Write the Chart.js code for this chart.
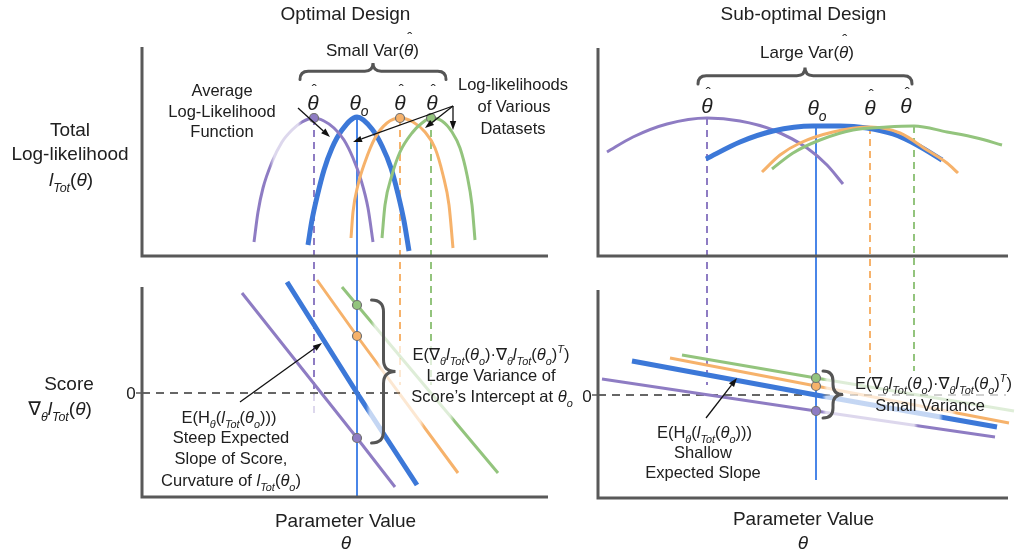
<!DOCTYPE html>
<html>
<head>
<meta charset="utf-8">
<script src="https://cdn.jsdelivr.net/npm/chart.js@4/dist/chart.umd.min.js"></script>
<style>
  html, body { margin: 0; padding: 0; background: #fff; overflow: hidden; }
  canvas { display: block; }
</style>
</head>
<body>
<canvas id="fig" width="1026" height="557"></canvas>
<script>
// θ is measured relative to the true parameter θo (θo = 0).

// Total log-likelihood, optimal design: [θ, lTot]
const optLLAverage = [[-4.9,1.1],[-4.5,3.6],[-4.0,5.9],[-3.3,8.6],[-2.5,10.8],[-1.5,12.6],[0,13.9],[1.5,12.7],[2.5,11.0],[3.4,8.8],[4.1,6.2],[4.7,3.5],[5.2,0.5]];
const optLLPurple  = [[-10.3,1.4],[-9.9,4.4],[-9.4,6.8],[-8.5,9.4],[-7.5,11.4],[-6.5,12.6],[-5.5,13.4],[-4.3,13.8],[-3.3,13.5],[-2.3,12.8],[-1.3,11.6],[-0.4,9.8],[0.4,7.6],[1.1,4.8],[1.6,1.4]];
const optLLOrange  = [[-0.6,1.8],[-0.4,4.4],[0.1,7.1],[0.8,9.4],[1.8,11.8],[3.0,13.3],[4.3,13.8],[5.6,13.4],[6.8,12.4],[7.8,10.8],[8.6,8.1],[9.2,5.1],[9.6,0.8]];
const optLLGreen   = [[2.5,1.8],[2.8,5.1],[3.5,8.1],[4.3,10.4],[5.5,12.3],[6.5,13.3],[7.4,13.8],[8.5,13.5],[9.5,12.4],[10.3,10.8],[11.0,8.1],[11.5,5.1],[11.8,1.6]];

// Total log-likelihood, sub-optimal design
const subLLAverage = [[-11.0,9.7],[-7.6,11.4],[-4.3,12.5],[-0.3,13.0],[2.4,13.0],[5.1,12.8],[7.7,12.2],[10.1,11.1],[12.6,9.6]];
const subLLPurple  = [[-20.9,10.4],[-18.3,11.9],[-14.9,13.2],[-10.9,13.8],[-7.6,13.5],[-4.3,12.6],[-0.9,10.8],[1.1,9.1],[2.7,7.2]];
const subLLOrange  = [[-5.4,8.4],[-3.6,10.1],[-1.6,11.3],[1.7,12.4],[5.4,12.9],[8.4,12.3],[11.1,10.6],[13.1,9.3],[14.2,8.3]];
const subLLGreen   = [[-4.4,8.7],[-2.3,10.3],[0.4,11.6],[3.7,12.6],[7.1,12.9],[9.8,13.0],[13.1,12.4],[16.1,11.8],[18.6,11.1]];

// Score lines: [θ, score]; the middle point is the intercept at θo
const optScoreAverage = [[-7.0,11.1],[0,0],[6.0,-9.2]];
const optScorePurple  = [[-11.5,10.0],[0,-4.5],[3.8,-9.4]];
const optScoreOrange  = [[-4.0,11.3],[0,5.7],[10.1,-8.0]];
const optScoreGreen   = [[-1.5,10.6],[0,8.8],[14.1,-8.0]];

const subScoreAverage = [[-18.4,3.4],[0,0],[18.1,-3.2]];
const subScorePurple  = [[-21.4,1.6],[0,-1.6],[17.9,-4.2]];
const subScoreOrange  = [[-14.6,3.7],[0,0.9],[19.3,-2.8]];
const subScoreGreen   = [[-13.4,4.0],[0,1.7],[19.8,-1.6]];

// lower ends of the dashed estimate lines in the score panels
const optDashEnds = [-2.2, 0.8, 0.8];
const subDashEnds = [1.0, 2.2, 2.4];

// ---------------------------------------------------------------
const W = 1026, H = 557;
const FONT = '"Liberation Sans", Arial, Helvetica, "DejaVu Sans", sans-serif';
const INK = '#202020';
const AXIS = '#595959';
const C = { purple: '#8e7cc3', blue: '#3c78d8', orange: '#f6b26b', green: '#93c47d', theta: '#4a86e8', zero: '#666666' };

const hexA = (hex, a) => {
  const n = parseInt(hex.slice(1), 16);
  return `rgba(${n >> 16},${(n >> 8) & 255},${n & 255},${a})`;
};
const clamp01 = v => Math.min(1, Math.max(0, v));
const xy = arr => arr.map(([x, y]) => ({ x, y }));
const peakOf = arr => arr.reduce((m, p) => (p[1] > m[1] ? p : m), arr[0]);
const atTheta0 = arr => arr.find(p => p[0] === 0);

// pixel placement of each scale: value 0 at `anchor` px, `k` px per unit
function xScale(anchor, k) {
  return { type: 'linear', axis: 'x', position: 'bottom', display: false, min: -anchor / k, max: (W - anchor) / k };
}
function yScale(anchor, k) {
  return { type: 'linear', axis: 'y', position: 'left', display: false, min: (anchor - H) / k, max: anchor / k };
}

// stroke that is washed out over some θ ranges (where labels sit on top)
function fadedStroke(chart, color, ranges, scaleId) {
  const sc = chart.scales && chart.scales[scaleId];
  if (!sc || !ranges) return color;
  const px = ranges.map(([a, b]) => [sc.getPixelForValue(a) / W, sc.getPixelForValue(b) / W]);
  if (!px.every(([a, b]) => Number.isFinite(a) && Number.isFinite(b))) return color;
  const g = chart.ctx.createLinearGradient(0, 0, W, 0);
  const lite = hexA(color, 0.3), e = 2 / W;
  g.addColorStop(0, color);
  for (const [pa, pb] of px) {
    g.addColorStop(clamp01(pa - e), color);
    g.addColorStop(clamp01(pa + e), lite);
    g.addColorStop(clamp01(pb - e), lite);
    g.addColorStop(clamp01(pb + e), color);
  }
  return g;
}

function curve(arr, xs, ys, color, width, fades, smooth) {
  return {
    data: xy(arr), xAxisID: xs, yAxisID: ys, showLine: true,
    borderColor: fades ? (c) => fadedStroke(c.chart, color, fades, xs) : color,
    borderWidth: width, borderCapStyle: 'butt', pointRadius: 0, pointHoverRadius: 0,
    cubicInterpolationMode: smooth ? 'monotone' : 'default', tension: 0, fill: false
  };
}
function markers(points, colors, xs, ys) {
  return {
    data: xy(points), xAxisID: xs, yAxisID: ys, showLine: false,
    pointRadius: 4.5, pointHoverRadius: 4.5, pointBorderWidth: 1.2,
    pointBackgroundColor: colors, pointBorderColor: '#707070'
  };
}

const dotCols = [C.purple, C.orange, C.green];
const optLL = [optLLPurple, optLLOrange, optLLGreen];
const subLL = [subLLPurple, subLLOrange, subLLGreen];
const optScores = [optScorePurple, optScoreOrange, optScoreGreen];
const subScores = [subScorePurple, subScoreOrange, subScoreGreen];

const datasets = [
  markers(optLL.map(peakOf), dotCols, 'xL', 'yTL'),
  markers(optScores.map(atTheta0), dotCols, 'xL', 'yBL'),
  markers(subScores.map(atTheta0), dotCols, 'xR', 'yBR'),

  curve(optLLGreen, 'xL', 'yTL', C.green, 3, null, true),
  curve(optLLOrange, 'xL', 'yTL', C.orange, 3, null, true),
  curve(optLLPurple, 'xL', 'yTL', C.purple, 3, [[-8.5, -5.7]], true),
  curve(optLLAverage, 'xL', 'yTL', C.blue, 5, null, true),

  curve(subLLGreen, 'xR', 'yTR', C.green, 3, null, true),
  curve(subLLOrange, 'xR', 'yTR', C.orange, 3, null, true),
  curve(subLLAverage, 'xR', 'yTR', C.blue, 5, null, true),
  curve(subLLPurple, 'xR', 'yTR', C.purple, 3, null, true),

  curve(optScoreGreen, 'xL', 'yBL', C.green, 3, [[1.6, 9.5]], false),
  curve(optScoreOrange, 'xL', 'yBL', C.orange, 3, [[2.2, 6.5]], false),
  curve(optScoreAverage, 'xL', 'yBL', C.blue, 5, [[1.1, 2.6]], false),
  curve(optScorePurple, 'xL', 'yBL', C.purple, 3, null, false),

  curve(subScoreGreen, 'xR', 'yBR', C.green, 3, [[0.9, 25]], false),
  curve(subScoreOrange, 'xR', 'yBR', C.orange, 3, [[0.9, 13.8]], false),
  curve(subScoreAverage, 'xR', 'yBR', C.blue, 5, [[0.8, 12.5]], false),
  curve(subScorePurple, 'xR', 'yBR', C.purple, 3, [[0.8, 10]], false)
];

// panel frames: [x scale, y scale, θ from, θ to, y from, y to]
const panels = [
  ['xL', 'yTL', -21.5, 19.1, 0, 20.9],
  ['xR', 'yTR', -21.8, 19.2, 0, 20.8],
  ['xL', 'yBL', -21.5, 19.1, -10.4, 10.6],
  ['xR', 'yBR', -21.8, 19.2, -10.3, 10.5]
];

// vertical / horizontal guide lines: points are [x scale, θ, y scale, value]
const refLines = [
  { a: ['xL', 0, 'yTL', peakOf(optLLAverage)[1]], b: ['xL', 0, 'yBL', -10.4], color: C.theta, width: 2 },
  { a: ['xR', 0, 'yTR', 13.0], b: ['xR', 0, 'yBR', -8.5], color: C.theta, width: 2 },
  { a: ['xL', -21.5, 'yBL', 0], b: ['xL', 4.3, 'yBL', 0], color: C.zero, width: 2, dash: [8, 6] },
  { a: ['xR', -21.8, 'yBR', 0], b: ['xR', 19.0, 'yBR', 0], color: C.zero, width: 2, dash: [8, 6],
    fade: [['xR', 0.6, 'yBR', 0], ['xR', 19.0, 'yBR', 0]] }
];
const optFadeFrom = [0.3, 5.3, 5.3];
optLL.forEach((arr, i) => {
  const [t, l] = peakOf(arr);
  refLines.push({ a: ['xL', t, 'yTL', l], b: ['xL', t, 'yBL', optDashEnds[i]], color: dotCols[i], width: 2, dash: [7, 5],
    fade: [['xL', t, 'yBL', optFadeFrom[i]], ['xL', t, 'yBL', optDashEnds[i]]] });
});
subLL.forEach((arr, i) => {
  const [t, l] = peakOf(arr);
  refLines.push({ a: ['xR', t, 'yTR', l], b: ['xR', t, 'yBR', subDashEnds[i]], color: dotCols[i], width: 2, dash: [7, 5] });
});

// annotation text (rich segments: 'i' italic, 's' subscript, 'S' superscript, 'h' hat)
const lTot = [['l', 'i'], ['Tot', 'si']];
const theta0 = [['θ', 'i'], ['o', 'si']];
const hessian = ['E(H', ['θ', 'si'], '(', ...lTot, '(', ...theta0, ')))'];
const outer = ['E(∇', ['θ', 'si'], ...lTot, '(', ...theta0, ')·∇', ['θ', 'si'], ...lTot, '(', ...theta0, ')', ['T', 'Si'], ')'];
const hatTheta = [['θ', 'ih']];

const labels = [
  { t: ['Optimal Design'], x: 345.5, y: 13, s: 19 },
  { t: ['Sub-optimal Design'], x: 803.5, y: 13, s: 19 },
  { t: ['Small Var(', ['θ', 'ih'], ')'], x: 372.5, y: 50, s: 17 },
  { t: ['Large Var(', ['θ', 'ih'], ')'], x: 807, y: 52, s: 17 },

  { t: hatTheta, x: 313, y: 102, s: 21 },
  { t: theta0, x: 359, y: 102, s: 21 },
  { t: hatTheta, x: 400, y: 102, s: 21 },
  { t: hatTheta, x: 432, y: 102, s: 21 },
  { t: hatTheta, x: 707, y: 105, s: 21 },
  { t: theta0, x: 817, y: 107, s: 21 },
  { t: hatTheta, x: 870, y: 107, s: 21 },
  { t: hatTheta, x: 906, y: 105, s: 21 },

  { t: ['Average'], x: 222, y: 90, s: 16.5 },
  { t: ['Log-Likelihood'], x: 222, y: 111, s: 16.5 },
  { t: ['Function'], x: 222, y: 131, s: 16.5 },
  { t: ['Log-likelihoods'], x: 513, y: 84, s: 16.5 },
  { t: ['of Various'], x: 514, y: 106, s: 16.5 },
  { t: ['Datasets'], x: 513, y: 128, s: 16.5 },

  { t: ['Total'], x: 70, y: 129, s: 19 },
  { t: ['Log-likelihood'], x: 70, y: 153, s: 19 },
  { t: [...lTot, '(', ['θ', 'i'], ')'], x: 71, y: 179, s: 19 },
  { t: ['Score'], x: 69, y: 383, s: 19 },
  { t: ['∇', ['θ', 'si'], ...lTot, '(', ['θ', 'i'], ')'], x: 60, y: 408, s: 19 },
  { t: ['0'], x: 131, y: 393, s: 17 },
  { t: ['0'], x: 587, y: 396, s: 17 },

  { t: hessian, x: 229, y: 417, s: 16.5 },
  { t: ['Steep Expected'], x: 231, y: 437, s: 16.5 },
  { t: ['Slope of Score,'], x: 231, y: 458, s: 16.5 },
  { t: ['Curvature of ', ...lTot, '(', ...theta0, ')'], x: 231, y: 480, s: 16.5 },
  { t: outer, x: 491, y: 354, s: 16.5 },
  { t: ['Large Variance of'], x: 491, y: 375, s: 16.5 },
  { t: ['Score’s Intercept at ', ...theta0], x: 492, y: 396, s: 16.5 },

  { t: hessian, x: 704.5, y: 432, s: 16.5 },
  { t: ['Shallow'], x: 703, y: 452, s: 16.5 },
  { t: ['Expected Slope'], x: 703, y: 472, s: 16.5 },
  { t: outer, x: 933.5, y: 383, s: 16.5 },
  { t: ['Small Variance'], x: 930, y: 405, s: 16.5 },

  { t: ['Parameter Value'], x: 345.5, y: 520, s: 19 },
  { t: [['θ', 'i']], x: 346, y: 542, s: 19 },
  { t: ['Parameter Value'], x: 803.5, y: 518, s: 19 },
  { t: [['θ', 'i']], x: 803, y: 542, s: 19 }
];

const arrows = [
  [[298, 108], [330, 137]],
  [[453, 106], [353, 142]],
  [[453, 106], [425, 128]],
  [[453, 106], [453, 130]],
  [[240, 402], [322, 343]],
  [[706, 418], [737, 378]]
];

// braces: horizontal (tips down) and vertical (tips left)
const hBraces = [[300, 446, 79.5, 8.2], [698, 912, 84, 8.2]];
const vBraces = [[371.5, 300, 443, 12], [823, 371, 418, 10]];

// ---------------------------------------------------------------
function drawRich(ctx, segs, x, y, size) {
  const parts = segs.map(s => {
    const [t, f = ''] = Array.isArray(s) ? s : [s];
    const small = f.includes('s') || f.includes('S');
    const fs = small ? size * 0.66 : size;
    const font = (f.includes('i') ? 'italic ' : '') + fs.toFixed(1) + 'px ' + FONT;
    ctx.font = font;
    return { t, f, font, w: ctx.measureText(t).width };
  });
  const total = parts.reduce((a, p) => a + p.w, 0);
  let cx = x - total / 2;
  const base = y + size * 0.36;
  ctx.textAlign = 'left';
  ctx.textBaseline = 'alphabetic';
  ctx.fillStyle = INK;
  for (const p of parts) {
    ctx.font = p.font;
    let dy = 0;
    if (p.f.includes('s')) dy = size * 0.3;
    if (p.f.includes('S')) dy = -size * 0.42;
    ctx.fillText(p.t, cx, base + dy);
    if (p.f.includes('h')) {
      const hs = 15;
      ctx.font = hs + 'px ' + FONT;
      ctx.textAlign = 'center';
      ctx.fillText('ˆ', cx + p.w / 2 + size * 0.06, y - 17 + hs * 0.66);
      ctx.textAlign = 'left';
    }
    cx += p.w;
  }
}

const pt = (chart, [xs, xv, ys, yv]) => [chart.scales[xs].getPixelForValue(xv), chart.scales[ys].getPixelForValue(yv)];

function strokeRef(chart, r) {
  const ctx = chart.ctx;
  const A = pt(chart, r.a), B = pt(chart, r.b);
  let style = r.color;
  if (r.fade) {
    const L2 = (B[0] - A[0]) ** 2 + (B[1] - A[1]) ** 2;
    const tt = P => ((P[0] - A[0]) * (B[0] - A[0]) + (P[1] - A[1]) * (B[1] - A[1])) / L2;
    let t0 = tt(pt(chart, r.fade[0])), t1 = tt(pt(chart, r.fade[1]));
    if (t0 > t1) [t0, t1] = [t1, t0];
    if (Number.isFinite(t0) && Number.isFinite(t1)) {
      const g = ctx.createLinearGradient(A[0], A[1], B[0], B[1]);
      const lite = hexA(r.color, 0.3);
      g.addColorStop(0, r.color);
      g.addColorStop(clamp01(t0), r.color);
      g.addColorStop(clamp01(t0 + 0.02), lite);
      g.addColorStop(clamp01(t1), lite);
      if (t1 < 0.98) g.addColorStop(clamp01(t1 + 0.02), r.color);
      style = g;
    }
  }
  ctx.save();
  ctx.strokeStyle = style;
  ctx.lineWidth = r.width;
  ctx.setLineDash(r.dash || []);
  ctx.beginPath();
  ctx.moveTo(A[0], A[1]);
  ctx.lineTo(B[0], B[1]);
  ctx.stroke();
  ctx.restore();
}

function drawAxes(chart, [xs, ys, x0, x1, y0, y1]) {
  const ctx = chart.ctx, sx = chart.scales[xs], sy = chart.scales[ys];
  const L = sx.getPixelForValue(x0), R = sx.getPixelForValue(x1);
  const T = sy.getPixelForValue(y1), B = sy.getPixelForValue(y0);
  ctx.save();
  ctx.strokeStyle = AXIS;
  ctx.lineWidth = 3;
  ctx.lineJoin = 'miter';
  ctx.beginPath();
  ctx.moveTo(L, T);
  ctx.lineTo(L, B);
  ctx.lineTo(R, B);
  ctx.stroke();
  if (y0 < 0) {
    const z = sy.getPixelForValue(0);
    ctx.lineWidth = 1.5;
    ctx.beginPath();
    ctx.moveTo(L - 6, z);
    ctx.lineTo(L, z);
    ctx.stroke();
  }
  ctx.restore();
}

function hBrace(ctx, x1, x2, y, h) {
  const xm = (x1 + x2) / 2;
  ctx.beginPath();
  ctx.moveTo(x1, y);
  ctx.quadraticCurveTo(x1, y - h, x1 + h, y - h);
  ctx.lineTo(xm - h, y - h);
  ctx.quadraticCurveTo(xm, y - h, xm, y - 2 * h);
  ctx.quadraticCurveTo(xm, y - h, xm + h, y - h);
  ctx.lineTo(x2 - h, y - h);
  ctx.quadraticCurveTo(x2, y - h, x2, y);
  ctx.stroke();
}
function vBrace(ctx, x, y1, y2, h) {
  const ym = (y1 + y2) / 2;
  ctx.beginPath();
  ctx.moveTo(x, y1);
  ctx.quadraticCurveTo(x + h, y1, x + h, y1 + h);
  ctx.lineTo(x + h, ym - h);
  ctx.quadraticCurveTo(x + h, ym, x + 2 * h, ym);
  ctx.quadraticCurveTo(x + h, ym, x + h, ym + h);
  ctx.lineTo(x + h, y2 - h);
  ctx.quadraticCurveTo(x + h, y2, x, y2);
  ctx.stroke();
}
function arrow(ctx, [x0, y0], [x1, y1]) {
  const a = Math.atan2(y1 - y0, x1 - x0), len = 9, wid = 3.2;
  const bx = x1 - len * Math.cos(a), by = y1 - len * Math.sin(a);
  ctx.beginPath();
  ctx.moveTo(x0, y0);
  ctx.lineTo(bx, by);
  ctx.stroke();
  ctx.beginPath();
  ctx.moveTo(x1, y1);
  ctx.lineTo(bx + wid * Math.sin(a), by - wid * Math.cos(a));
  ctx.lineTo(bx - wid * Math.sin(a), by + wid * Math.cos(a));
  ctx.closePath();
  ctx.fill();
}

const diagram = {
  id: 'diagram',
  beforeDraw(chart) {
    const ctx = chart.ctx;
    ctx.save();
    ctx.fillStyle = '#ffffff';
    ctx.fillRect(0, 0, chart.width, chart.height);
    ctx.restore();
  },
  beforeDatasetsDraw(chart) {
    refLines.forEach(r => strokeRef(chart, r));
    panels.forEach(p => drawAxes(chart, p));
  },
  afterDatasetsDraw(chart) {
    const ctx = chart.ctx;
    ctx.save();
    ctx.strokeStyle = '#555555';
    ctx.lineWidth = 3;
    ctx.lineCap = 'round';
    hBraces.forEach(([a, b, y, h]) => hBrace(ctx, a, b, y, h));
    vBraces.forEach(([x, a, b, h]) => vBrace(ctx, x, a, b, h));
    ctx.strokeStyle = '#111111';
    ctx.fillStyle = '#111111';
    ctx.lineWidth = 1.3;
    ctx.lineCap = 'butt';
    arrows.forEach(([p, q]) => arrow(ctx, p, q));
    labels.forEach(l => drawRich(ctx, l.t, l.x, l.y, l.s));
    ctx.restore();
  }
};

new Chart(document.getElementById('fig'), {
  type: 'line',
  data: { datasets },
  options: {
    responsive: false,
    devicePixelRatio: 1,
    animation: false,
    events: [],
    layout: { padding: 0, autoPadding: false },
    plugins: { legend: { display: false }, tooltip: { enabled: false }, title: { display: false } },
    scales: {
      xL: xScale(357, 10),
      xR: xScale(816, 10),
      yTL: yScale(256, 10),
      yTR: yScale(256, 10),
      yBL: yScale(393, 10),
      yBR: yScale(395, 10)
    }
  },
  plugins: [diagram]
});
</script>
</body>
</html>
